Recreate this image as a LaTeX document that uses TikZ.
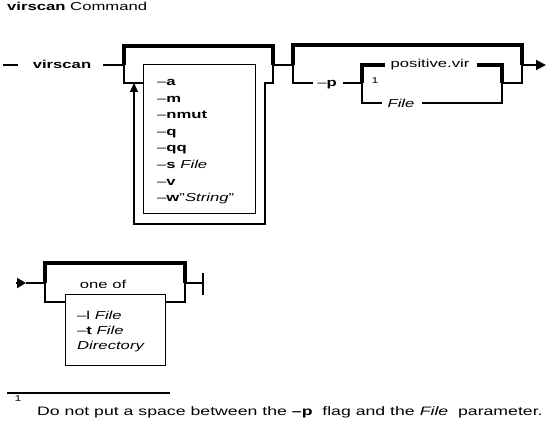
\documentclass[tikz,border=0pt]{standalone}
\usepackage{fontspec}
\setmainfont{Liberation Sans}[FakeStretch=1.45]
\usetikzlibrary{arrows.meta}
\tikzset{
  main rail/.style={line width=1.9pt},
  thick rail/.style={line width=3.4pt},
  thin rail/.style={line width=1.25pt},
  word/.style={inner sep=0pt, anchor=base},
  flag/.style={inner sep=0pt, anchor=base west},
  note mark/.style={inner sep=0pt, font=\fontsize{8.5}{9}\selectfont},
}

\begin{document}
\begin{tikzpicture}[x=1pt, y=-1pt, font=\fontsize{11.5}{13}\selectfont]
        \useasboundingbox (0,0) rectangle (546,425);
        \node [flag] (title) at (7,11) {\textbf{virscan} Command};

        % first row
        \coordinate (s0) at (3,65);
        \coordinate (s1) at (18,65);
        \node [word] (vs) at (62,69) {\textbf{virscan}};
        \coordinate (s2) at (103,65);
        \draw [main rail] (s0) -- (s1);
        \draw [main rail] (s2) -- (124,65);

        % repeated options
        \draw [thick rail] (124,65) -- (124,46) -- (273,46) -- (273,65);
        \draw [thin rail] (124,65) -- (124,83) -- (143,83);
        \node [draw, thin rail, minimum width=112pt, minimum height=149pt,
               anchor=north west] (opts) at (143,64) {};
        \node [flag] (oa) at (157,86) {--\textbf{a}};
        \node [flag] (om) at (157,102.5) {--\textbf{m}};
        \node [flag] (on) at (157,119) {--\textbf{nmut}};
        \node [flag] (oq) at (157,135.5) {--\textbf{q}};
        \node [flag] (oqq) at (157,152) {--\textbf{qq}};
        \node [flag] (os) at (157,168.5) {--\textbf{s} \textit{File}};
        \node [flag] (ov) at (157,185) {--\textbf{v}};
        \node [flag] (ow) at (157,201.5) {--\textbf{w}"\textit{String}"};
        \draw [thin rail, -{Triangle[length=9pt,width=8pt]}]
          (273,65) -- (273,83) -- (265,83) -- (265,224) -- (134,224) -- (134,83);
        \draw [main rail] (273,65) -- (293,65);

        % output file
        \draw [thick rail] (293,65) -- (293,45) -- (522,45) -- (522,65);
        \node [word] (p) at (327,87) {--\textbf{p}};
        \draw [thin rail] (293,65) -- (293,83) -- (313,83);
        \draw [thin rail] (343,83) -- (362,83);
        \node [word] (pv) at (430,68) {positive.vir};
        \node [note mark] (fn1) at (375,81) {1};
        \node [word] (pf) at (401,107.5) {\textit{File}};
        \draw [thick rail] (362,83) -- (362,65) -- (385,65);
        \draw [thick rail] (477,65) -- (502,65) -- (502,83);
        \draw [thin rail] (362,83) -- (362,103) -- (382,103);
        \draw [thin rail] (422,103) -- (502,103) -- (502,83) -- (522,83) -- (522,65);
        \draw [main rail, -{Triangle[length=10pt,width=10pt]}] (522,65) -- (546,65);

        % second row
        \coordinate (e0) at (16,283);
        \coordinate (e1) at (26,283);
        \draw [main rail, -{Triangle[length=9pt,width=10pt]}] (e0) -- (e1);
        \draw [main rail] (e1) -- (45,283);
        \draw [thick rail] (45,283) -- (45,263) -- (185,263) -- (185,283);
        \node [word] (oneof) at (103,288) {one of};
        \draw [thin rail] (45,283) -- (45,302) -- (65,302);
        \node [draw, thin rail, minimum width=100pt, minimum height=71pt,
               anchor=north west] (dirs) at (65,294) {};
        \draw [thin rail] (165,302) -- (185,302) -- (185,283);
        \node [flag] (dl) at (77,319) {--l \textit{File}};
        \node [flag] (dt) at (77,334) {--\textbf{t} \textit{File}};
        \node [flag] (dd) at (77,349) {\textit{Directory}};
        \coordinate (x1) at (203,283);
        \draw [main rail] (185,283) -- (x1);
        \draw [main rail] (203,273) -- (203,295);

        % footnote
        \draw [line width=1.5pt] (7,393) -- (170,393);
        \node [note mark] (fn2) at (18,399) {1};
        \node [flag, font=\fontsize{12.2}{13}\selectfont] (note) at (37,415)
          {Do not put a space between the \textbf{--p}\ \ flag and the \textit{File}\ \ parameter.};
    \end{tikzpicture}
\end{document}
